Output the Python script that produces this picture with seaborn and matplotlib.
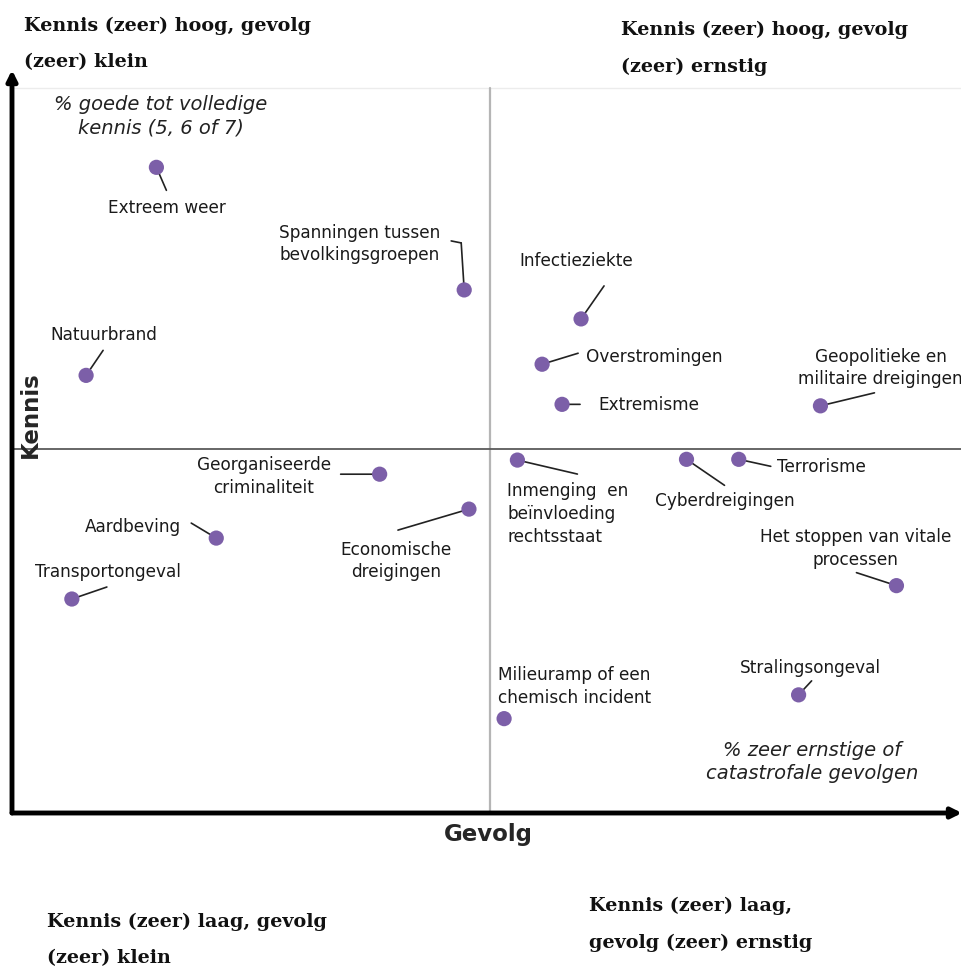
import seaborn as sns
import matplotlib.pyplot as plt
import pandas as pd
from matplotlib.transforms import offset_copy

# risks: x = % zeer ernstige gevolgen, y = % goede kennis
risks = ['Extreem weer', 'Spanningen tussen\nbevolkingsgroepen', 'Natuurbrand',
         'Infectieziekte', 'Overstromingen', 'Extremisme',
         'Geopolitieke en\nmilitaire dreigingen', 'Georganiseerde\ncriminaliteit',
         'Economische\ndreigingen', 'Aardbeving', 'Transportongeval',
         'Inmenging  en\nbeïnvloeding\nrechtsstaat', 'Cyberdreigingen', 'Terrorisme',
         'Het stoppen van vitale\nprocessen', 'Milieuramp of een\nchemisch incident',
         'Stralingsongeval']
gevolg = [15.2, 47.6, 7.8, 59.9, 55.8, 57.9, 85.1, 38.7, 48.1, 21.5, 6.3,
          53.2, 71.0, 76.5, 93.1, 51.8, 82.8]
kennis = [86.9, 70.4, 58.9, 66.5, 60.4, 55.0, 54.8, 45.6, 40.9, 37.0, 28.8,
          47.5, 47.6, 47.6, 30.6, 12.7, 15.9]
mid_gevolg = 50.3
mid_kennis = 49.0

df = pd.DataFrame({'risk': risks, 'gevolg': gevolg, 'kennis': kennis})

# label placement (pixel offsets from the dot): text offset, ha, leader end offset
label_pos = {
    'Extreem weer': ((11, -41), 'center', (10, -23)),
    'Spanningen tussen\nbevolkingsgroepen': ((-105, 46), 'center', (-3, 47)),
    'Natuurbrand': ((18, 40), 'center', (17, 25)),
    'Infectieziekte': ((-5, 58), 'center', (23, 33)),
    'Overstromingen': ((44, 7), 'left', (36, 11)),
    'Extremisme': ((36, -1), 'left', (18, 0)),
    'Geopolitieke en\nmilitaire dreigingen': ((60, 38), 'center', (54, 13)),
    'Georganiseerde\ncriminaliteit': ((-116, -2), 'center', (-39, 0)),
    'Economische\ndreigingen': ((-73, -52), 'center', (-71, -21)),
    'Aardbeving': ((-83, 11), 'center', (-25, 15)),
    'Transportongeval': ((36, 27), 'center', (35, 12)),
    'Inmenging  en\nbeïnvloeding\nrechtsstaat': ((-10, -54), 'left', (60, -14)),
    'Cyberdreigingen': ((38, -42), 'center', (38, -26)),
    'Terrorisme': ((38, -8), 'left', (32, -7)),
    'Het stoppen van vitale\nprocessen': ((-41, 37), 'center', (-40, 13)),
    'Milieuramp of een\nchemisch incident': ((-6, 32), 'left', None),
    'Stralingsongeval': ((12, 27), 'center', (13, 14)),
}

sns.set_style('white')
plt.rcParams['font.family'] = ['DejaVu Sans']

fig = plt.figure(figsize=(9.62, 9.71), dpi=100)
ax = fig.add_axes([12 / 962, (971 - 813) / 971, 950 / 962, 743 / 971])
ax.set_xlim(0, 100)
ax.set_ylim(0, 100)
for s in ax.spines.values():
    s.set_visible(False)
ax.set_xticks([])
ax.set_yticks([])
ax.set_xlabel('')
ax.set_ylabel('')

# quadrant lines
top = (813 - 88) / 743 * 100
ax.plot([mid_gevolg, mid_gevolg], [0, top], color='#b5b5b5', lw=1.6, zorder=1)
ax.axhline(mid_kennis, color='#5a5a5a', lw=1.3, zorder=1)
ax.plot([0, 100], [top, top], color='#ececec', lw=1, zorder=0)

# axis arrows
for end in [(0, 1.0), (1.0, 0)]:
    ax.annotate('', xy=end, xytext=(0, 0), xycoords='axes fraction',
                arrowprops=dict(arrowstyle='-|>,head_length=0.6,head_width=0.3',
                                color='black', lw=3.5, shrinkA=0, shrinkB=0),
                annotation_clip=False)

sns.scatterplot(data=df, x='gevolg', y='kennis', ax=ax, color='#7c5fa8',
                s=120, edgecolor='none', zorder=3, legend=False)

line_kw = dict(arrowstyle='-', color='#222222', lw=1.2, shrinkA=0, shrinkB=0)
for r, x, y in zip(risks, gevolg, kennis):
    toff, ha, loff = label_pos[r]
    if loff is not None:
        ax.annotate('', xy=(x, y), xytext=loff, textcoords='offset pixels',
                    arrowprops=line_kw, zorder=2)
    ax.annotate(r, xy=(x, y), xytext=toff, textcoords='offset pixels',
                ha=ha, va='center', fontsize=12.2, color='#1a1a1a',
                linespacing=1.33, multialignment=ha)

# hook at the top of the Spanningen leader line
i = risks.index('Spanningen tussen\nbevolkingsgroepen')
hook_tr = offset_copy(ax.transData, fig=fig, x=-3, y=47, units='dots')
ax.annotate('', xy=(gevolg[i], kennis[i]), xycoords=hook_tr,
            xytext=(-10, 2), textcoords='offset pixels', arrowprops=line_kw)


def px(x, y):
    return (x, 971 - y)


note = dict(transform=None, ha='center', va='center', fontsize=14, style='italic',
            color='#222222', linespacing=1.3)
ax.text(*px(161, 116), '% goede tot volledige\nkennis (5, 6 of 7)', **note)
ax.text(*px(812, 762), '% zeer ernstige of\ncatastrofale gevolgen', **note)

# axis titles
fig.text(30 / 962, 1 - 415 / 971, 'Kennis', rotation=90, ha='center', va='center',
         fontsize=16.5, fontweight='bold')
fig.text(488 / 962, 1 - 834 / 971, 'Gevolg', ha='center', va='center',
         fontsize=16.5, fontweight='bold')

corner = dict(fontsize=13.8, fontweight='bold', family='DejaVu Serif',
              ha='left', va='top', linespacing=2.28, color='#111111')
fig.text(24 / 962, 1 - 17 / 971, 'Kennis (zeer) hoog, gevolg\n(zeer) klein', **corner)
fig.text(621 / 962, 1 - 21 / 971, 'Kennis (zeer) hoog, gevolg\n(zeer) ernstig', **corner)
fig.text(47 / 962, 1 - 913 / 971, 'Kennis (zeer) laag, gevolg\n(zeer) klein', **corner)
fig.text(589 / 962, 1 - 897 / 971, 'Kennis (zeer) laag,\ngevolg (zeer) ernstig', **corner)

fig.savefig('out.png', dpi=100)
